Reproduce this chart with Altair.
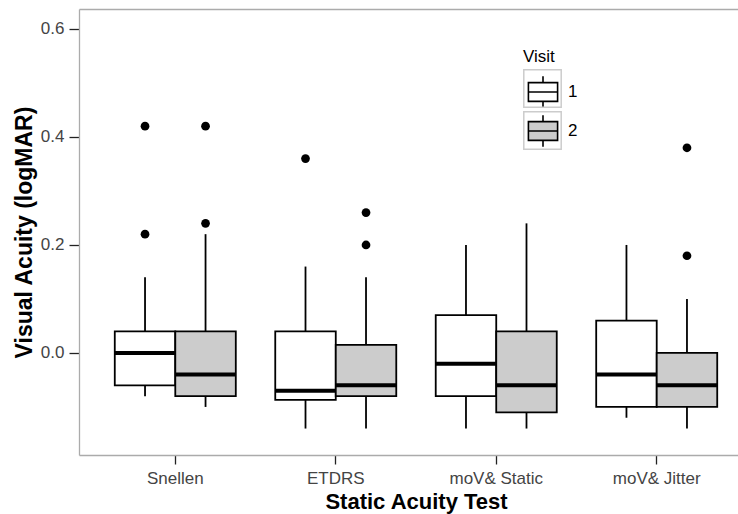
import altair as alt
import pandas as pd

# ---- data ----
tests = ["Snellen", "ETDRS", "moV& Static", "moV& Jitter"]
visits = ["1", "2"]

box_test = ["Snellen", "Snellen", "ETDRS", "ETDRS", "moV& Static", "moV& Static", "moV& Jitter", "moV& Jitter"]
box_visit = ["1", "2", "1", "2", "1", "2", "1", "2"]
box_key = ["a", "b", "a", "b", "a", "b", "a", "b"]
lower = [-0.08, -0.10, -0.14, -0.14, -0.14, -0.14, -0.12, -0.14]
q1 = [-0.06, -0.08, -0.087, -0.08, -0.08, -0.11, -0.10, -0.10]
median = [0.0, -0.04, -0.07, -0.06, -0.02, -0.06, -0.04, -0.06]
q3 = [0.04, 0.04, 0.04, 0.015, 0.07, 0.04, 0.06, 0.0]
upper = [0.14, 0.22, 0.16, 0.14, 0.20, 0.24, 0.20, 0.10]

out_test = ["Snellen", "Snellen", "Snellen", "Snellen", "ETDRS", "ETDRS", "ETDRS", "moV& Jitter", "moV& Jitter"]
out_visit = ["1", "1", "2", "2", "1", "2", "2", "2", "2"]
out_value = [0.42, 0.22, 0.42, 0.24, 0.36, 0.26, 0.20, 0.38, 0.18]

y_ticks = [0.0, 0.2, 0.4, 0.6]

stats = pd.DataFrame({
    "Test": box_test, "Visit": box_visit, "VisitKey": box_key,
    "lower": lower, "q1": q1, "median": median, "q3": q3, "upper": upper,
})
outliers = pd.DataFrame({"Test": out_test, "Visit": out_visit, "value": out_value})

FONT = "Liberation Sans"
BORDER = "#ababab"

xscale = alt.Scale(domain=tests, range=[0, 674], paddingInner=0, paddingOuter=0.1)
xoff_scale = alt.Scale(domain=visits, paddingInner=0, paddingOuter=0.326)
yscale = alt.Scale(domain=[-0.189, 0.637], nice=False, zero=False)

x_axis = alt.Axis(
    orient="bottom", title="Static Acuity Test", domain=True, domainColor=BORDER, domainWidth=1.3,
    ticks=True, tickColor="#222222", tickSize=9, tickWidth=1.3, labelAngle=0,
    labelFontSize=17, labelColor="#444444", labelPadding=6, labelFont=FONT,
    titleFontSize=22, titleFontWeight="bold", titleColor="black", titleFont=FONT, titlePadding=5,
)
X = alt.X("Test:N", scale=xscale, sort=tests, axis=x_axis)
XO = alt.XOffset("Visit:N", scale=xoff_scale)

y_axis = alt.Axis(
    values=y_ticks, format=".1f", title="Visual Acuity (logMAR)", grid=False,
    domain=True, domainColor=BORDER, domainWidth=1.3,
    ticks=True, tickColor="#222222", tickSize=10, tickWidth=1.3,
    labelFontSize=17, labelColor="#444444", labelPadding=5, labelFont=FONT,
    titleFontSize=23, titleFontWeight="bold", titleColor="black", titleFont=FONT, titlePadding=4,
)

box_path = "M-0.78,-0.5H0.78V0.5H-0.78Z M-0.78,0H0.78 M0,-0.5V-0.84 M0,0.5V0.84"

base = alt.Chart(stats)

whisk_up = base.mark_rule(color="black", strokeWidth=1.8).encode(
    x=X, xOffset=XO,
    y=alt.Y("upper:Q", scale=yscale, axis=y_axis), y2="q3:Q",
)
whisk_lo = base.mark_rule(color="black", strokeWidth=1.8).encode(
    x=X, xOffset=XO,
    y=alt.Y("q1:Q", scale=yscale, axis=y_axis), y2="lower:Q",
)
boxes = base.mark_bar(stroke="black", strokeWidth=1.8, opacity=1).encode(
    x=X, xOffset=XO,
    y=alt.Y("q1:Q", scale=yscale, axis=y_axis), y2="q3:Q",
    fill=alt.Fill(
        "Visit:N",
        scale=alt.Scale(domain=visits, range=["white", "#cccccc"]),
        legend=alt.Legend(
            title="Visit", orient="none", legendX=444, legendY=40, padding=0,
            symbolType=box_path, symbolSize=1400, symbolStrokeColor="black",
            symbolStrokeWidth=1.6, labelFontSize=17, labelFont=FONT, labelColor="black",
            titleFontSize=17, titleFontWeight="normal", titleFont=FONT, titleColor="black",
            labelOffset=5, rowPadding=-3, titlePadding=6,
        ),
    ),
)
medians = base.mark_bar(stroke="black", strokeWidth=4, fill="black").encode(
    x=X, xOffset=XO,
    y=alt.Y("median:Q", scale=yscale, axis=y_axis), y2="median:Q",
)
points = alt.Chart(outliers).mark_circle(size=76, color="black", opacity=1).encode(
    x=X, xOffset=XO,
    y=alt.Y("value:Q", scale=yscale, axis=y_axis),
)

inner = alt.layer(whisk_up, whisk_lo, boxes, medians, points)

frame = base.mark_point(opacity=0, filled=False, stroke="#cccccc", strokeWidth=1.5).encode(
    x=alt.X("Test:N", scale=xscale, sort=tests,
            axis=alt.Axis(orient="top", labels=False, ticks=False, domain=True,
                          domainColor=BORDER, domainWidth=1.3, title=None)),
    shape=alt.Shape(
        "VisitKey:N",
        scale=alt.Scale(domain=["a", "b"], range=["square", "square"]),
        legend=alt.Legend(
            title=None, orient="none", legendX=444, legendY=60, padding=0,
            symbolSize=1400, symbolStrokeColor="#cccccc", symbolStrokeWidth=1.5,
            symbolFillColor="transparent", symbolOpacity=1, labelExpr="''",
            labelFontSize=17, rowPadding=-8.5,
        ),
    ),
)

chart = alt.layer(inner, frame).resolve_scale(x="independent").properties(
    width=659, height=446,
    autosize=alt.AutoSizeParams(type="none"),
    padding={"left": 79, "top": 9, "right": 0, "bottom": 59},
    background="white",
).configure(font=FONT).configure_view(stroke=None)

chart.save("out.html", embed_options={"renderer": "svg", "actions": False})
